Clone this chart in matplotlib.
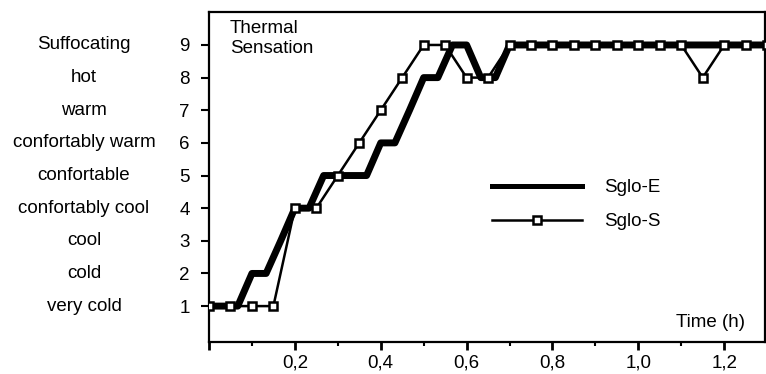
import matplotlib
matplotlib.use("Agg")
import matplotlib.pyplot as plt
from matplotlib.lines import Line2D
from matplotlib.transforms import blended_transform_factory
from matplotlib.ticker import FixedLocator

plt.rcParams['font.family'] = ['Liberation Sans', 'DejaVu Sans']

# Sglo-E: readings every 2 minutes
time_e = [0, 0.033, 0.067, 0.1, 0.133, 0.167, 0.2, 0.233, 0.267, 0.3,
          0.333, 0.367, 0.4, 0.433, 0.467, 0.5, 0.533, 0.567, 0.6, 0.633,
          0.667, 0.7, 0.733, 0.767, 0.8, 0.833, 0.867, 0.9, 0.933, 0.967,
          1.0, 1.033, 1.067, 1.1, 1.133, 1.167, 1.2, 1.233, 1.267, 1.3]
sglo_e = [1, 1, 1, 2, 2, 3, 4, 4, 5, 5,
          5, 5, 6, 6, 7, 8, 8, 9, 9, 8,
          8, 9, 9, 9, 9, 9, 9, 9, 9, 9,
          9, 9, 9, 9, 9, 9, 9, 9, 9, 9]

# Sglo-S: readings every 3 minutes
time_s = [0, 0.05, 0.1, 0.15, 0.2, 0.25, 0.3, 0.35, 0.4, 0.45,
          0.5, 0.55, 0.6, 0.65, 0.7, 0.75, 0.8, 0.85, 0.9, 0.95,
          1.0, 1.05, 1.1, 1.15, 1.2, 1.25, 1.3]
sglo_s = [1, 1, 1, 1, 4, 4, 5, 6, 7, 8,
          9, 9, 8, 8, 9, 9, 9, 9, 9, 9,
          9, 9, 9, 8, 9, 9, 9]

sensation_levels = [1, 2, 3, 4, 5, 6, 7, 8, 9]
sensation_names = ["very cold", "cold", "cool", "confortably cool", "confortable",
                   "confortably warm", "warm", "hot", "Suffocating"]
x_ticks = [0.2, 0.4, 0.6, 0.8, 1.0, 1.2]
x_tick_labels = ["0,2", "0,4", "0,6", "0,8", "1,0", "1,2"]

W, H = 766, 374
fig = plt.figure(figsize=(W / 100, H / 100), dpi=100)
left_px, right_px, top_px, bottom_px = 209, 765, 12, 342
ax = fig.add_axes([left_px / W, 1 - bottom_px / H,
                   (right_px - left_px) / W, (bottom_px - top_px) / H])

fs = 13.5
ax.plot(time_e, sglo_e, color='black', lw=5.0, solid_joinstyle='round',
        solid_capstyle='round', zorder=3)
ax.plot(time_s, sglo_s, color='black', lw=1.8, marker='s', markersize=5.5,
        markerfacecolor='white', markeredgecolor='black', markeredgewidth=1.8,
        zorder=4)

ax.set_xlim(0, 1.295)
ax.set_ylim(-0.1, 10.01)

ax.set_yticks(sensation_levels)
ax.set_yticklabels([str(v) for v in sensation_levels], fontsize=fs)
ax.xaxis.set_major_locator(FixedLocator([0] + x_ticks))
ax.set_xticklabels([""] + x_tick_labels, fontsize=fs)
ax.xaxis.set_minor_locator(FixedLocator([0.1, 0.3, 0.5, 0.7, 0.9, 1.1]))

ax.tick_params(axis='y', direction='out', length=6, width=1.5, pad=8)
ax.tick_params(axis='x', which='major', direction='out', length=6, width=2, pad=3)
ax.tick_params(axis='x', which='minor', direction='out', length=3, width=1.5)
for sp in ax.spines.values():
    sp.set_linewidth(1.6)

trans = blended_transform_factory(fig.transFigure, ax.transData)
for lvl, name in zip(sensation_levels, sensation_names):
    ax.text(84 / W, lvl, name, transform=trans, ha='center', va='center',
            fontsize=fs, clip_on=False)

ax.text(0.049, 9.78, "Thermal\nSensation", ha='left', va='top', fontsize=fs,
        linespacing=1.3)
ax.text(1.249, 0.5, "Time (h)", ha='right', va='center', fontsize=fs)

handles = [Line2D([], [], color='black', lw=3.6),
           Line2D([], [], color='black', lw=1.8, marker='s', markersize=5.5,
                  markerfacecolor='white', markeredgecolor='black',
                  markeredgewidth=1.8)]
leg = ax.legend(handles, ["Sglo-E", "Sglo-S"], loc='upper left',
                bbox_to_anchor=((492 - left_px) / (right_px - left_px),
                                1 - (179 - top_px) / (bottom_px - top_px)),
                frameon=False, fontsize=fs, handlelength=4.8, handletextpad=1.2,
                labelspacing=0.9, borderpad=0, borderaxespad=0)

fig.savefig("out.png", dpi=100)
